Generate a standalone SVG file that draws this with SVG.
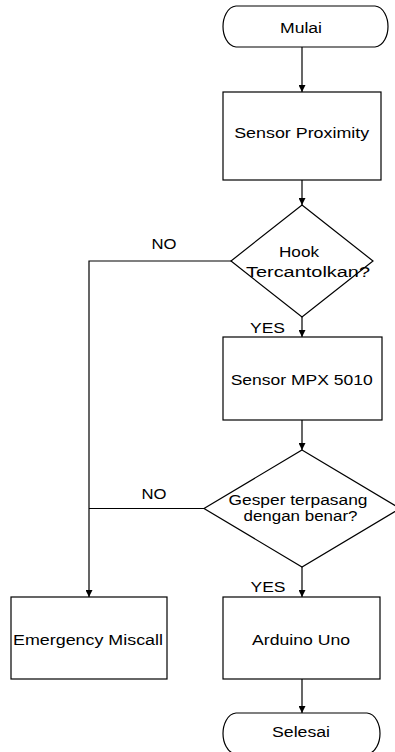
<svg xmlns="http://www.w3.org/2000/svg" width="395" height="752" viewBox="0 0 395 752">
<style>
.s{fill:#fff;stroke:#000;stroke-width:1.2}
.t{font-family:"Liberation Sans",Arial,sans-serif;font-size:14px;fill:#000;text-anchor:middle}
.c{fill:none;stroke:#000;stroke-width:1.2}
</style>
<defs>
<marker id="a" viewBox="0 0 10 10" refX="10" refY="5" markerWidth="7" markerHeight="7" orient="auto" markerUnits="userSpaceOnUse">
<path d="M0,0 L10,5 L0,10 Z" fill="#000"/>
</marker>
</defs>
<rect width="395" height="752" fill="#fff"/>
<g id="connectors">
<line class="c" x1="302" y1="47" x2="302" y2="92" marker-end="url(#a)"/>
<line class="c" x1="302" y1="180" x2="302" y2="205" marker-end="url(#a)"/>
<line class="c" x1="302" y1="317" x2="302" y2="337" marker-end="url(#a)"/>
<polyline class="c" points="231,261 89,261 89,597" marker-end="url(#a)"/>
<line class="c" x1="302" y1="420" x2="302" y2="450" marker-end="url(#a)"/>
<line class="c" x1="204" y1="508.5" x2="89" y2="508.5"/>
<line class="c" x1="302" y1="567" x2="302" y2="597" marker-end="url(#a)"/>
<line class="c" x1="302" y1="679" x2="302" y2="713" marker-end="url(#a)"/>
<text class="t" x="164" y="249" textLength="25" lengthAdjust="spacingAndGlyphs">NO</text>
<text class="t" x="267.5" y="333" textLength="35" lengthAdjust="spacingAndGlyphs">YES</text>
<text class="t" x="154" y="499" textLength="25" lengthAdjust="spacingAndGlyphs">NO</text>
<text class="t" x="268" y="592" textLength="35" lengthAdjust="spacingAndGlyphs">YES</text>
</g>
<g id="mulai">
<path class="s" d="M236,6 H375 C384,7 388,18 388,26.5 C388,35 384,46 375,47 H236 C227,46 223,35 223,26.5 C223,18 227,7 236,6 Z"/>
<text class="t" x="301" y="33" textLength="42" lengthAdjust="spacingAndGlyphs">Mulai</text>
</g>
<g id="sensor-proximity">
<rect class="s" x="223" y="92" width="158" height="88"/>
<text class="t" x="301.7" y="138" textLength="135" lengthAdjust="spacingAndGlyphs">Sensor Proximity</text>
</g>
<g id="hook">
<polygon class="s" points="302,205 373,261 302,317 231,261"/>
<text class="t" x="299" y="257" textLength="40" lengthAdjust="spacingAndGlyphs">Hook</text>
<text class="t" x="308" y="277" textLength="124" lengthAdjust="spacingAndGlyphs">Tercantolkan?</text>
</g>
<g id="sensor-mpx">
<rect class="s" x="223" y="337" width="159" height="83"/>
<text class="t" x="301.7" y="385" textLength="142" lengthAdjust="spacingAndGlyphs">Sensor MPX 5010</text>
</g>
<g id="gesper">
<polygon class="s" points="302,450 400,508.5 302,567 204,508.5"/>
<text class="t" x="298" y="505" textLength="139" lengthAdjust="spacingAndGlyphs">Gesper terpasang</text>
<text class="t" x="300.5" y="521" textLength="114" lengthAdjust="spacingAndGlyphs">dengan benar?</text>
</g>
<g id="emergency">
<rect class="s" x="11" y="597" width="156" height="82"/>
<text class="t" x="88" y="645" textLength="150" lengthAdjust="spacingAndGlyphs">Emergency Miscall</text>
</g>
<g id="arduino">
<rect class="s" x="223" y="597" width="157" height="82"/>
<text class="t" x="301" y="645" textLength="98" lengthAdjust="spacingAndGlyphs">Arduino Uno</text>
</g>
<g id="selesai">
<path class="s" d="M236,713 H367 C376,714 380,725 380,733.5 C380,742 376,753 367,754 H236 C227,753 223,742 223,733.5 C223,725 227,714 236,713 Z"/>
<text class="t" x="301" y="737" textLength="58" lengthAdjust="spacingAndGlyphs">Selesai</text>
</g>
</svg>
